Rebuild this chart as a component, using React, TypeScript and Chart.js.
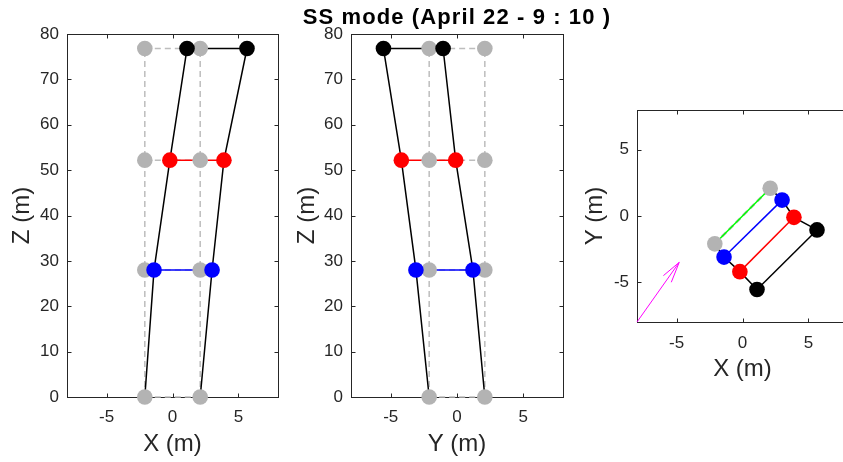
import React, { useEffect, useRef } from 'react';
import { Chart, registerables } from 'chart.js';

Chart.register(...registerables);

// ---------- data ----------
const titleText = 'SS mode (April 22 - 9 : 10 )';
const levelZ = [0, 28, 52.2, 76.8];
const colAX = [-2.1, -1.4, -0.2, 1.1];
const colBX = [2.1, 3.0, 3.9, 5.65];
const colAY = [-2.1, -3.1, -4.2, -5.55];
const colBY = [2.1, 1.2, -0.1, -1.05];
const baseAX = -2.1;
const baseBX = 2.1;
const baseAY = -2.1;
const baseBY = 2.1;
const levelColors = ['#00ff00', '#0000ff', '#ff0000', '#000000'];
const hTicks = [-5, 0, 5];
const zTicks = [0, 10, 20, 30, 40, 50, 60, 70, 80];
const arrowX = [-8, -4.8];
const arrowY = [-8, -3.5];
const arrowHeadX = [-6.0, -4.8, -5.4];
const arrowHeadY = [-4.5, -3.5, -5.0];

// ---------- styles ----------
const FONT = "'Liberation Sans', Arial, Helvetica, sans-serif";
const AXIS_COLOR = '#262626';
const GRAY_MARK = '#b3b3b3';
const GRAY_LINE = '#bdbdbd';
const R = 7.8;

const framePlugin = {
  id: 'frame',
  beforeDatasetsDraw(chart: any) {
    const { ctx, chartArea: a, scales } = chart;
    const L = Math.round(a.left) + 0.5;
    const Rr = Math.round(a.right) + 0.5;
    const T = Math.round(a.top) + 0.5;
    const B = Math.round(a.bottom) + 0.5;
    ctx.save();
    ctx.strokeStyle = AXIS_COLOR;
    ctx.lineWidth = 1;
    ctx.setLineDash([]);
    ctx.strokeRect(L, T, Rr - L, B - T);
    const tl = 4;
    ctx.beginPath();
    scales.x.ticks.forEach((t: any) => {
      const p = Math.round(scales.x.getPixelForValue(t.value)) + 0.5;
      ctx.moveTo(p, B); ctx.lineTo(p, B - tl);
      ctx.moveTo(p, T); ctx.lineTo(p, T + tl);
    });
    scales.y.ticks.forEach((t: any) => {
      const p = Math.round(scales.y.getPixelForValue(t.value)) + 0.5;
      ctx.moveTo(L, p); ctx.lineTo(L + tl, p);
      ctx.moveTo(Rr, p); ctx.lineTo(Rr - tl, p);
    });
    ctx.stroke();
    ctx.restore();
  },
};

function lineDs(pts: { x: number; y: number }[], color: string, width: number, dash: number[] = []) {
  return {
    data: pts,
    showLine: true,
    borderColor: color,
    borderWidth: width,
    borderDash: dash,
    pointRadius: 0,
    pointHoverRadius: 0,
    fill: false,
    tension: 0,
    clip: false as any,
  };
}

function markDs(pts: { x: number; y: number }[], color: string) {
  return {
    data: pts,
    showLine: false,
    pointRadius: R,
    pointHoverRadius: R,
    pointBackgroundColor: color,
    pointBorderWidth: 0,
    borderColor: color,
    clip: false as any,
  };
}

function withOrder(list: any[]) {
  // first in list = drawn first (bottom)
  return list.map((d, i) => ({ ...d, order: list.length - i }));
}

function elevationDatasets(colA: number[], colB: number[], baseA: number, baseB: number) {
  const list: any[] = [];
  list.push(lineDs(levelZ.map((z) => ({ x: baseA, y: z })), GRAY_LINE, 1.5, [6, 4]));
  list.push(lineDs(levelZ.map((z) => ({ x: baseB, y: z })), GRAY_LINE, 1.5, [6, 4]));
  levelZ.forEach((z) => {
    list.push(lineDs([{ x: baseA, y: z }, { x: baseB, y: z }], GRAY_LINE, 1.5, [6, 4]));
  });
  for (let i = 1; i < levelZ.length; i++) {
    list.push(lineDs([{ x: colA[i], y: levelZ[i] }, { x: colB[i], y: levelZ[i] }], levelColors[i], 1.5));
  }
  list.push(lineDs(levelZ.map((z, i) => ({ x: colA[i], y: z })), '#000000', 1.5));
  list.push(lineDs(levelZ.map((z, i) => ({ x: colB[i], y: z })), '#000000', 1.5));
  const grayPts: any[] = [];
  levelZ.forEach((z) => { grayPts.push({ x: baseA, y: z }); grayPts.push({ x: baseB, y: z }); });
  list.push(markDs(grayPts, GRAY_MARK));
  for (let i = 1; i < levelZ.length; i++) {
    list.push(markDs([{ x: colA[i], y: levelZ[i] }, { x: colB[i], y: levelZ[i] }], levelColors[i]));
  }
  return withOrder(list);
}

function planDatasets() {
  const list: any[] = [];
  list.push(lineDs([{ x: baseAX, y: baseAY }, { x: baseBX, y: baseBY }], GRAY_LINE, 2.5, [6, 4]));
  list.push(lineDs([{ x: baseAX, y: baseAY }, { x: baseBX, y: baseBY }], levelColors[0], 1.5));
  for (let i = 1; i < levelZ.length; i++) {
    list.push(lineDs([{ x: colAX[i], y: colAY[i] }, { x: colBX[i], y: colBY[i] }], levelColors[i], 1.5));
  }
  list.push(lineDs(colAX.map((x, i) => ({ x, y: colAY[i] })), '#000000', 1.5));
  list.push(lineDs(colBX.map((x, i) => ({ x, y: colBY[i] })), '#000000', 1.5));
  list.push(lineDs(arrowX.map((x, i) => ({ x, y: arrowY[i] })), '#ff00ff', 1));
  list.push(lineDs(arrowHeadX.map((x, i) => ({ x, y: arrowHeadY[i] })), '#ff00ff', 1));
  list.push(markDs([{ x: baseAX, y: baseAY }, { x: baseBX, y: baseBY }], GRAY_MARK));
  for (let i = 1; i < levelZ.length; i++) {
    list.push(markDs([{ x: colAX[i], y: colAY[i] }, { x: colBX[i], y: colBY[i] }], levelColors[i]));
  }
  return withOrder(list);
}

function makeScale(opts: {
  min: number; max: number; ticks: number[]; title: string; horizontal: boolean;
  size: number; tickPad: number; titlePad: number;
}) {
  return {
    type: 'linear',
    min: opts.min,
    max: opts.max,
    grid: { display: false, drawTicks: false },
    border: { display: false },
    ticks: {
      padding: opts.tickPad,
      color: AXIS_COLOR,
      font: { size: 17, family: FONT },
      autoSkip: false,
      maxRotation: 0,
    },
    title: {
      display: true,
      text: opts.title,
      color: AXIS_COLOR,
      font: { size: 24, family: FONT },
      padding: opts.horizontal ? { top: 0, bottom: opts.titlePad } : { top: opts.titlePad, bottom: 0 },
    },
    afterBuildTicks: (s: any) => {
      s.ticks = opts.ticks.map((v) => ({ value: v }));
    },
    afterFit: (s: any) => {
      if (opts.horizontal) s.height = opts.size;
      else s.width = opts.size;
    },
  };
}

interface PanelProps {
  left: number;
  width: number;
  height: number;
  padTop: number;
  padRight: number;
  datasets: any[];
  xScale: any;
  yScale: any;
}

function Panel(p: PanelProps) {
  const ref = useRef<HTMLCanvasElement | null>(null);
  useEffect(() => {
    if (!ref.current) return;
    const chart = new Chart(ref.current, {
      type: 'scatter',
      data: { datasets: p.datasets },
      options: {
        responsive: false,
        animation: false,
        events: [],
        layout: { padding: { left: 0, right: p.padRight, top: p.padTop, bottom: 0 } },
        plugins: { legend: { display: false }, tooltip: { enabled: false }, title: { display: false } },
        scales: { x: p.xScale, y: p.yScale },
      } as any,
      plugins: [framePlugin],
    });
    return () => chart.destroy();
  }, []);
  return (
    <canvas
      ref={ref}
      width={p.width}
      height={p.height}
      style={{ position: 'absolute', left: p.left, top: 0, width: p.width, height: p.height }}
    />
  );
}

export default function App() {
  return (
    <div
      style={{
        position: 'absolute',
        left: 0,
        top: 0,
        width: 843,
        height: 462,
        overflow: 'hidden',
        background: '#ffffff',
      }}
    >
      <Panel
        left={0}
        width={290}
        height={462}
        padTop={34}
        padRight={12}
        datasets={elevationDatasets(colAX, colBX, baseAX, baseBX)}
        xScale={makeScale({ min: -8, max: 8, ticks: hTicks, title: 'X (m)', horizontal: true, size: 65, tickPad: 10, titlePad: 3.5 })}
        yScale={makeScale({ min: 0, max: 80, ticks: zTicks, title: 'Z (m)', horizontal: false, size: 67, tickPad: 8, titlePad: 8.3 })}
      />
      <Panel
        left={284}
        width={290}
        height={462}
        padTop={34}
        padRight={11}
        datasets={elevationDatasets(colAY, colBY, baseAY, baseBY)}
        xScale={makeScale({ min: -8, max: 8, ticks: hTicks, title: 'Y (m)', horizontal: true, size: 65, tickPad: 10, titlePad: 3.5 })}
        yScale={makeScale({ min: 0, max: 80, ticks: zTicks, title: 'Z (m)', horizontal: false, size: 67, tickPad: 8, titlePad: 9 })}
      />
      <Panel
        left={570}
        width={290}
        height={387}
        padTop={110}
        padRight={12}
        datasets={planDatasets()}
        xScale={makeScale({ min: -8, max: 8, ticks: hTicks, title: 'X (m)', horizontal: true, size: 65, tickPad: 11, titlePad: 3.5 })}
        yScale={makeScale({ min: -8, max: 8, ticks: hTicks, title: 'Y (m)', horizontal: false, size: 67, tickPad: 8, titlePad: 11.3 })}
      />
      <div
        style={{
          position: 'absolute',
          left: 157,
          top: 6,
          width: 600,
          textAlign: 'center',
          fontFamily: FONT,
          fontWeight: 'bold',
          fontSize: 22,
          lineHeight: '22px',
          letterSpacing: '1.1px',
          color: '#000000',
          whiteSpace: 'nowrap',
        }}
      >
        {titleText}
      </div>
    </div>
  );
}
